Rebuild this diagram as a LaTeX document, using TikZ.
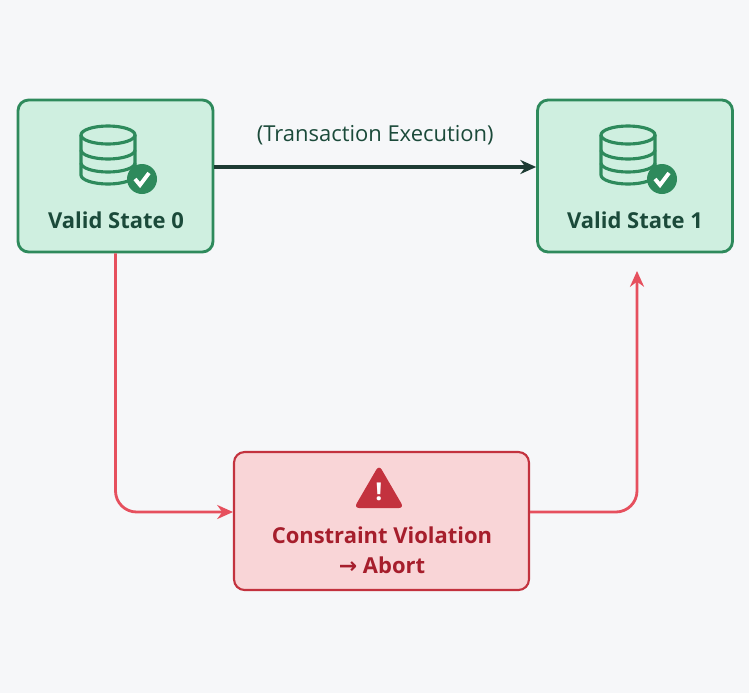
\documentclass[tikz,border=0pt]{standalone}
\usepackage{fontspec}
\setmainfont{Open Sans}
\newfontfamily\symfont{DejaVu Sans}
\usetikzlibrary{arrows.meta, positioning}
\definecolor{bgc}{HTML}{F6F7F9}
\definecolor{okfill}{HTML}{CFEFE0}
\definecolor{okline}{HTML}{2E8A5C}
\definecolor{oktext}{HTML}{1B4A3A}
\definecolor{badfill}{HTML}{F9D5D7}
\definecolor{badline}{HTML}{C3323E}
\definecolor{badtext}{HTML}{A61E2C}
\definecolor{redflow}{HTML}{E6505E}
\definecolor{darkflow}{HTML}{1D3B33}
\newcommand{\dbicon}[2]{%
  \begin{scope}[shift={(#1,#2)}, draw=okline, line width=1.8pt]
    \draw (-27,-20) -- (-27,20) arc[start angle=180,end angle=0,x radius=27,y radius=9] -- (27,-20);
    \draw (0,-20) ellipse[x radius=27,y radius=9];
    \draw (-27,-5) arc[start angle=180,end angle=0,x radius=27,y radius=9];
    \draw (-27,8) arc[start angle=180,end angle=0,x radius=27,y radius=9];
    \fill[okline] (34,24) circle (15);
    \draw[white, line width=2.2pt] (27,24) -- (32,30) -- (41,18);
  \end{scope}}
\begin{document}
\begin{tikzpicture}
  [
  x=0.02cm, y=-0.02cm,
  okbox/.style={ rectangle, draw=okline, line width=1.6pt, rounded corners=6pt, fill=okfill, minimum width=3.9cm, minimum height=3.04cm },
  badbox/.style={ rectangle, draw=badline, line width=1.2pt, rounded corners=6pt, fill=badfill, minimum width=5.9cm, minimum height=2.76cm },
  oklabel/.style={ text=oktext, font=\bfseries\fontsize{12.5}{15}\selectfont },
  flow/.style={ line width=1.6pt, -{Stealth[length=9pt,width=8pt]} }
  ]
  \fill[bgc] (0,0) rectangle (749,693);
  \useasboundingbox (0,0) rectangle (749,693);

  \node (state0) [okbox] at (115.5,176) {};
  \node (state1) [okbox] at (635,176) {};
  \node (violation) [badbox] at (381.5,521) {};

  \dbicon{108}{155}
  \dbicon{628}{155}
  \node (lbl0) [oklabel] at (116,220) {Valid State 0};
  \node (lbl1) [oklabel] at (635,220) {Valid State 1};

  % warning sign
  \fill[badline, rounded corners=3pt] (379,465) -- (404,508) -- (354,508) -- cycle;
  \node (bang) [text=white, font=\bfseries\fontsize{14}{14}\selectfont] at (379,492) {!};
  \node (vlabel) [text=badtext, font=\bfseries\fontsize{12.5}{17}\selectfont, align=center] at (382,550)
    {Constraint Violation\\{\symfont →} Abort};

  \coordinate (bend0) at (115.5,512);
  \coordinate (bend1) at (637,512);
  \draw[flow, darkflow, line width=2pt] (state0.east |- 0,167) -- node[above=8pt, text=oktext, font=\fontsize{12.5}{14}\selectfont] (execlbl) {(Transaction Execution)} (state1.west |- 0,167);
  \draw[flow, redflow, rounded corners=12pt] (state0.south) -- (bend0) -- (violation.west |- bend0);
  \draw[flow, redflow, rounded corners=12pt] (violation.east |- bend1) -- (bend1) -- ([yshift=-10pt]state1.south -| bend1);
\end{tikzpicture}
\end{document}
